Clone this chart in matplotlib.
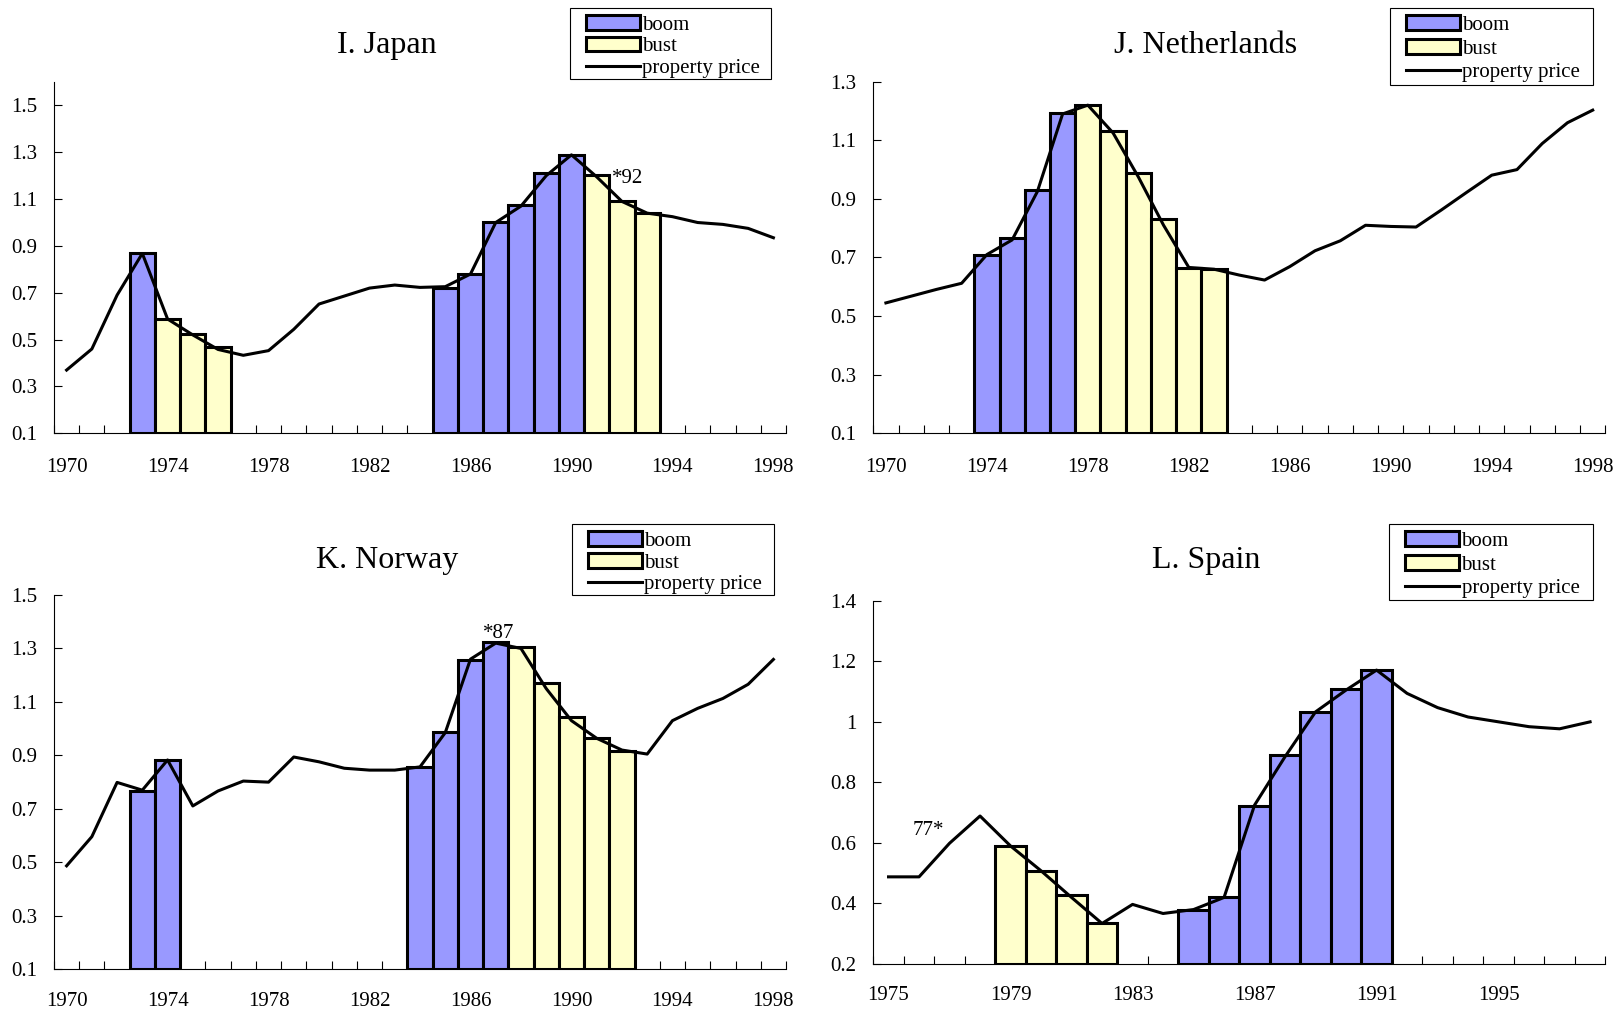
import matplotlib
matplotlib.use('Agg')
import matplotlib.pyplot as plt
from matplotlib.patches import Rectangle

plt.rcParams['font.family'] = ['Liberation Serif', 'DejaVu Serif']

BOOM = '#9999ff'
BUST = '#ffffcc'
W, H = 1616, 1010

# I. Japan
jp_years = list(range(1970, 1999))
jp_price = [0.37, 0.46, 0.69, 0.868, 0.588, 0.52, 0.458, 0.433, 0.453, 0.544,
            0.652, 0.686, 0.72, 0.733, 0.723, 0.726, 0.78, 1.0, 1.07, 1.2,
            1.289, 1.195, 1.09, 1.04, 1.025, 1.0, 0.992, 0.975, 0.935]
jp_boom_years = [1973, 1985, 1986, 1987, 1988, 1989, 1990]
jp_boom = [0.868, 0.719, 0.78, 1.003, 1.073, 1.212, 1.289]
jp_bust_years = [1974, 1975, 1976, 1991, 1992, 1993]
jp_bust = [0.588, 0.524, 0.467, 1.201, 1.093, 1.039]

# J. Netherlands
nl_years = list(range(1970, 1999))
nl_price = [0.545, 0.568, 0.591, 0.612, 0.71, 0.76, 0.925, 1.19, 1.22, 1.125,
            0.975, 0.81, 0.666, 0.66, 0.64, 0.623, 0.669, 0.723, 0.757, 0.81,
            0.806, 0.804, 0.862, 0.922, 0.981, 1.0, 1.089, 1.16, 1.203]
nl_boom_years = [1974, 1975, 1976, 1977]
nl_boom = [0.707, 0.765, 0.932, 1.192]
nl_bust_years = [1978, 1979, 1980, 1981, 1982, 1983]
nl_bust = [1.222, 1.131, 0.987, 0.832, 0.663, 0.66]

# K. Norway
no_years = list(range(1970, 1999))
no_price = [0.487, 0.596, 0.799, 0.77, 0.883, 0.711, 0.767, 0.804, 0.80, 0.894,
            0.876, 0.852, 0.845, 0.845, 0.857, 0.985, 1.26, 1.32, 1.30, 1.15,
            1.03, 0.964, 0.92, 0.905, 1.03, 1.076, 1.113, 1.166, 1.259]
no_boom_years = [1973, 1974, 1984, 1985, 1986, 1987]
no_boom = [0.768, 0.883, 0.858, 0.989, 1.257, 1.325]
no_bust_years = [1988, 1989, 1990, 1991, 1992]
no_bust = [1.304, 1.172, 1.045, 0.966, 0.918]

# L. Spain
es_years = list(range(1975, 1999))
es_price = [0.488, 0.488, 0.599, 0.689, 0.59, 0.508, 0.42, 0.334, 0.397, 0.367,
            0.38, 0.42, 0.725, 0.885, 1.033, 1.105, 1.171, 1.094, 1.047, 1.016,
            1.0, 0.984, 0.977, 1.0]
es_boom_years = [1985, 1986, 1987, 1988, 1989, 1990, 1991]
es_boom = [0.378, 0.42, 0.723, 0.89, 1.031, 1.107, 1.171]
es_bust_years = [1979, 1980, 1981, 1982]
es_bust = [0.59, 0.507, 0.428, 0.334]


def panel(ax, years, price, boom_years, boom, bust_years, bust,
          ylim, yticks, label_years, xpad=18):
    ymin = ylim[0]
    b1 = ax.bar(boom_years, [v - ymin for v in boom], bottom=ymin, width=1.0,
                color=BOOM, edgecolor='black', linewidth=2.2, label='boom', zorder=2)
    b2 = ax.bar(bust_years, [v - ymin for v in bust], bottom=ymin, width=1.0,
                color=BUST, edgecolor='black', linewidth=2.2, label='bust', zorder=2)
    ln, = ax.plot(years, price, color='black', lw=2.2, label='property price',
                  zorder=3)

    ax.set_xlim(years[0] - 0.5, years[-1] + 0.5)
    ax.set_ylim(*ylim)
    ax.set_yticks(yticks)
    ax.set_yticklabels([f'{v:g}' for v in yticks])
    ax.set_xticks([y - 0.5 for y in years] + [years[-1] + 0.5])
    ax.set_xticklabels([])
    ax.set_xticks(label_years, minor=True)
    ax.set_xticklabels([str(y) for y in label_years], minor=True)
    ax.tick_params(axis='x', which='major', direction='in', length=6, width=0.8)
    ax.tick_params(axis='x', which='minor', length=0, pad=xpad, labelsize=15)
    ax.tick_params(axis='y', direction='in', length=6, width=0.8, pad=12,
                   labelsize=15)
    for s in ['top', 'right']:
        ax.spines[s].set_visible(False)
    for s in ['left', 'bottom']:
        ax.spines[s].set_linewidth(0.8)
    ax.set_facecolor('none')
    return [b1, b2, ln]


def legend(ax, handles, box, spacing):
    # box: left, top, right, bottom in pixels from the top-left corner
    x0, y0, x1, y1 = box
    fig.patches.append(Rectangle((x0 / W, 1 - y1 / H), (x1 - x0) / W,
                                 (y1 - y0) / H, transform=fig.transFigure,
                                 facecolor='white', edgecolor='black',
                                 linewidth=0.8, zorder=-1))
    ax.legend(handles=handles, loc='upper left',
              bbox_to_anchor=((x0 + 10) / W, 1 - (y0 + 1) / H),
              bbox_transform=fig.transFigure, fontsize=15,
              frameon=False, handlelength=2.6, handletextpad=0.1,
              labelspacing=spacing, borderpad=0.3, borderaxespad=0)


fig = plt.figure(figsize=(16.16, 10.10), dpi=100)

ax1 = fig.add_axes([0.0334, 0.571, 0.453, 0.3478])
h = panel(ax1, jp_years, jp_price, jp_boom_years, jp_boom, jp_bust_years, jp_bust,
          (0.1, 1.6), [0.1, 0.3, 0.5, 0.7, 0.9, 1.1, 1.3, 1.5], range(1970, 1999, 4))
ax1.text(1991.62, 1.19, '*92', fontsize=15, ha='left', va='center')
legend(ax1, h, (570, 8, 771, 79), 0.1)
fig.text(0.2395, 0.9554, 'I. Japan', fontsize=23, ha='center', va='center')

ax2 = fig.add_axes([0.5404, 0.571, 0.453, 0.3481])
h = panel(ax2, nl_years, nl_price, nl_boom_years, nl_boom, nl_bust_years, nl_bust,
          (0.1, 1.3), [0.1, 0.3, 0.5, 0.7, 0.9, 1.1, 1.3], range(1970, 1999, 4))
legend(ax2, h, (1390, 8, 1593, 85), 0.2)
fig.text(0.7463, 0.9554, 'J. Netherlands', fontsize=23, ha='center', va='center')

ax3 = fig.add_axes([0.0334, 0.0403, 0.453, 0.3706])
h = panel(ax3, no_years, no_price, no_boom_years, no_boom, no_bust_years, no_bust,
          (0.1, 1.5), [0.1, 0.3, 0.5, 0.7, 0.9, 1.1, 1.3, 1.5], range(1970, 1999, 4),
          xpad=16)
ax3.text(1987.1, 1.356, '*87', fontsize=15, ha='center', va='center')
legend(ax3, h, (572, 524, 774, 595), 0.1)
fig.text(0.2395, 0.4455, 'K. Norway', fontsize=23, ha='center', va='center')

ax4 = fig.add_axes([0.5404, 0.0455, 0.453, 0.3597])
h = panel(ax4, es_years, es_price, es_boom_years, es_boom, es_bust_years, es_bust,
          (0.2, 1.4), [0.2, 0.4, 0.6, 0.8, 1.0, 1.2, 1.4], range(1975, 1999, 4),
          xpad=16)
ax4.text(1976.3, 0.642, '77*', fontsize=15, ha='center', va='center')
legend(ax4, h, (1389, 524, 1593, 600), 0.2)
fig.text(0.7463, 0.4455, 'L. Spain', fontsize=23, ha='center', va='center')

fig.savefig('out.png', dpi=100)
